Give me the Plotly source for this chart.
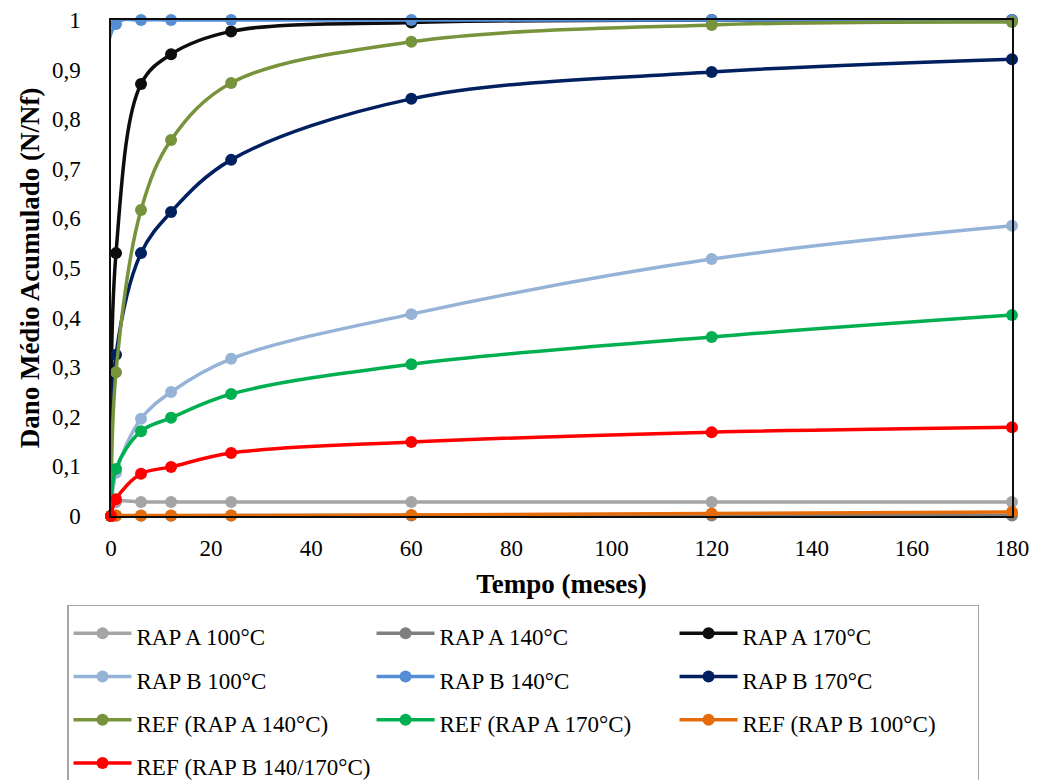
import plotly.graph_objects as go

months = [0, 1, 6, 12, 24, 60, 120, 180]

names = [
    "RAP A 100°C", "RAP A 140°C", "RAP A 170°C",
    "RAP B 100°C", "RAP B 140°C", "RAP B 170°C",
    "REF (RAP A 140°C)", "REF (RAP A 170°C)", "REF (RAP B 100°C)",
    "REF (RAP B 140/170°C)",
]

rap_a_100 = [0, 0.028, 0.028, 0.028, 0.028, 0.028, 0.028, 0.028]
rap_a_140 = [0, 0.0005, 0.0005, 0.0005, 0.0008, 0.001, 0.001, 0.001]
rap_a_170 = [0, 0.530, 0.871, 0.931, 0.977, 0.995, 1.0, 1.0]
rap_b_100 = [0, 0.087, 0.196, 0.250, 0.317, 0.407, 0.518, 0.585]
rap_b_140 = [0, 0.992, 1.0, 1.0, 1.0, 1.0, 1.0, 1.0]
rap_b_170 = [0, 0.325, 0.530, 0.613, 0.718, 0.841, 0.895, 0.921]
ref_a_140 = [0, 0.290, 0.617, 0.758, 0.873, 0.956, 0.990, 0.996]
ref_a_170 = [0, 0.095, 0.171, 0.198, 0.246, 0.306, 0.361, 0.405]
ref_b_100 = [0, 0.001, 0.001, 0.001, 0.001, 0.002, 0.005, 0.008]
ref_b_140_170 = [0, 0.034, 0.085, 0.099, 0.127, 0.149, 0.169, 0.179]

series = [rap_a_100, rap_a_140, rap_a_170, rap_b_100, rap_b_140, rap_b_170,
          ref_a_140, ref_a_170, ref_b_100, ref_b_140_170]
colors = ["#A5A5A5", "#7F7F7F", "#0D0D0D", "#95B3D7", "#558ED5", "#002060",
          "#77933C", "#00B050", "#E46C0A", "#FF0000"]

FONT = "Liberation Serif, Times New Roman, serif"

fig = go.Figure()
for name, vals, col in zip(names, series, colors):
    fig.add_trace(go.Scatter(
        x=months, y=vals, name="<span style='font-size:23px'>" + name + "</span>",
        mode="lines+markers",
        line=dict(color=col, width=3.5, shape="spline", smoothing=1.0),
        marker=dict(color=col, size=12),
        cliponaxis=False,
    ))

fig.update_layout(
    width=1038, height=780,
    margin=dict(l=111, r=26, t=20, b=264, autoexpand=False),
    paper_bgcolor="white", plot_bgcolor="white",
    separators=", ",
    font=dict(family=FONT, color="black", size=23),
    showlegend=True,
    legend=dict(
        orientation="h",
        x=-0.0488, xanchor="left",
        y=-0.1794, yanchor="top",
        font=dict(family=FONT, size=31, color="black"),
        bordercolor="#A6A6A6", borderwidth=1.5,
        entrywidth=230, entrywidthmode="pixels",
        itemwidth=58,
        traceorder="normal",
    ),
    xaxis=dict(
        range=[0, 180], dtick=20, tick0=0,
        showgrid=False, zeroline=False,
        showline=True, mirror=True, linecolor="#0D0D0D", linewidth=1.5,
        ticks="", ticklabelstandoff=11,
        tickfont=dict(family=FONT, size=23),
        title=dict(text="<b>Tempo (meses)</b>", font=dict(family=FONT, size=27), standoff=14),
    ),
    yaxis=dict(
        range=[0, 1], dtick=0.1, tick0=0,
        showgrid=False, zeroline=False,
        showline=True, mirror=True, linecolor="#0D0D0D", linewidth=1.5,
        ticks="", ticklabelstandoff=24,
        tickfont=dict(family=FONT, size=23),
        title=dict(text="<b>Dano Médio Acumulado (N/Nf)</b>", font=dict(family=FONT, size=27), standoff=4),
    ),
)

fig.write_html("out.html")
